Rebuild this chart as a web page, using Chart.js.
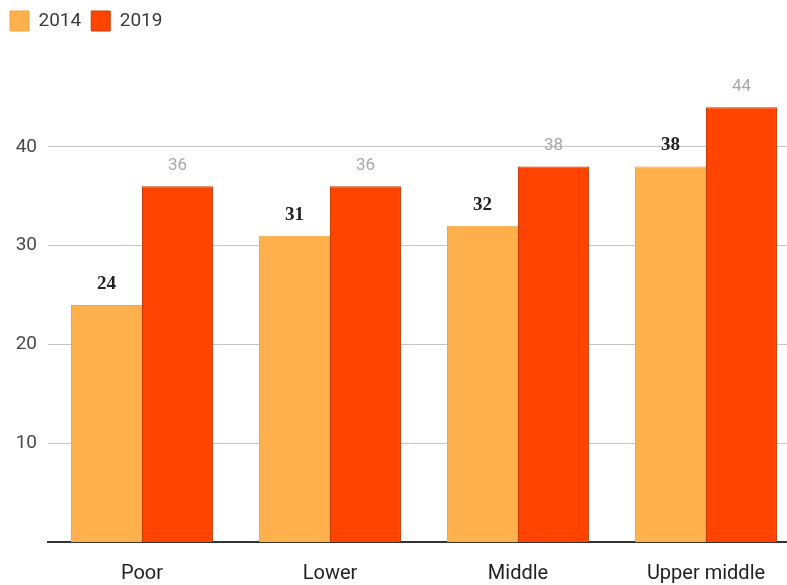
<!DOCTYPE html>
<html lang="en">
<head>
    <meta charset="UTF-8">
    <title>Income groups 2014 vs 2019</title>
    <style>
        html, body { margin: 0; padding: 0; background: #fff; overflow: hidden; }
        #wrap { width: 787px; height: 585px; overflow: hidden; }
    </style>
</head>
<body>
<div id="wrap">
    <canvas id="chartjs_bar" width="800" height="585"></canvas>
</div>

<script src="https://cdn.jsdelivr.net/npm/chart.js@4.4.1/dist/chart.umd.min.js"></script>
<script>
    // data
    var categories = ["Poor", "Lower", "Middle", "Upper middle"];
    var values2014 = [24, 31, 32, 38];
    var values2019 = [36, 36, 38, 44];
    var yTicks = [10, 20, 30, 40];

    // value labels above bars, two different styles like the original
    var barLabels = {
        id: 'barLabels',
        afterDatasetsDraw: function(chart) {
            var ctx = chart.ctx;
            ctx.save();
            ctx.textAlign = 'center';
            ctx.textBaseline = 'middle';
            chart.data.datasets.forEach(function(ds, i) {
                var meta = chart.getDatasetMeta(i);
                meta.data.forEach(function(bar, j) {
                    if (i === 0) {
                        ctx.font = "bold 19px 'Liberation Serif'";
                        ctx.fillStyle = '#222';
                    } else {
                        ctx.font = "17px Roboto";
                        ctx.fillStyle = '#a8a8a8';
                    }
                    ctx.fillText(ds.data[j], bar.x, bar.y - 21);
                });
            });
            ctx.restore();
        }
    };

    // a bit more room under the legend
    var legendGap = {
        id: 'legendGap',
        beforeLayout: function(chart) {
            var lg = chart.legend;
            if (lg && !lg._gapPatched) {
                var fit = lg.fit;
                lg.fit = function() {
                    fit.call(this);
                    this.height += 7;
                };
                lg._gapPatched = true;
            }
        }
    };

    var ctx = document.getElementById("chartjs_bar").getContext('2d');
    var myChart = new Chart(ctx, {
        type: 'bar',
        data: {
            labels: categories,
            datasets: [{
                label: "2014",
                data: values2014,
                backgroundColor: "#fdb04b",
                borderColor: "#f5a43e",
                borderWidth: 1,
                borderSkipped: 'bottom'
            }, {
                label: "2019",
                data: values2019,
                backgroundColor: "#fe4400",
                borderColor: "#c63c08",
                borderWidth: 1,
                borderSkipped: 'bottom'
            }]
        },
        options: {
            responsive: false,
            animation: false,
            devicePixelRatio: 1,
            layout: { padding: { top: 1, left: 0, right: 0, bottom: 0 } },
            datasets: {
                bar: { categoryPercentage: 0.755, barPercentage: 1 }
            },
            plugins: {
                tooltip: { enabled: false },
                legend: {
                    display: true,
                    position: 'top',
                    align: 'start',
                    labels: {
                        boxWidth: 19,
                        boxHeight: 20,
                        padding: 10,
                        color: '#3a3a3a',
                        font: { family: 'Roboto', size: 19 }
                    }
                }
            },
            scales: {
                x: {
                    grid: { display: false, drawTicks: false },
                    border: { display: true, color: '#333', width: 2 },
                    ticks: {
                        color: '#222',
                        padding: 20,
                        font: { family: 'Roboto', size: 20 }
                    },
                    afterFit: function(scale) { scale.height = 43; }
                },
                y: {
                    min: 0,
                    max: 50,
                    afterBuildTicks: function(scale) {
                        scale.ticks = yTicks.map(function(v) { return { value: v }; });
                    },
                    grid: { color: '#c4c4c4', lineWidth: 1, drawTicks: false },
                    border: { display: false },
                    ticks: {
                        color: '#4a4a4a',
                        padding: 11,
                        font: { family: 'Roboto', size: 19 }
                    },
                    afterFit: function(scale) { scale.width = 48; }
                }
            }
        },
        plugins: [barLabels, legendGap]
    });
</script>
</body>
</html>
